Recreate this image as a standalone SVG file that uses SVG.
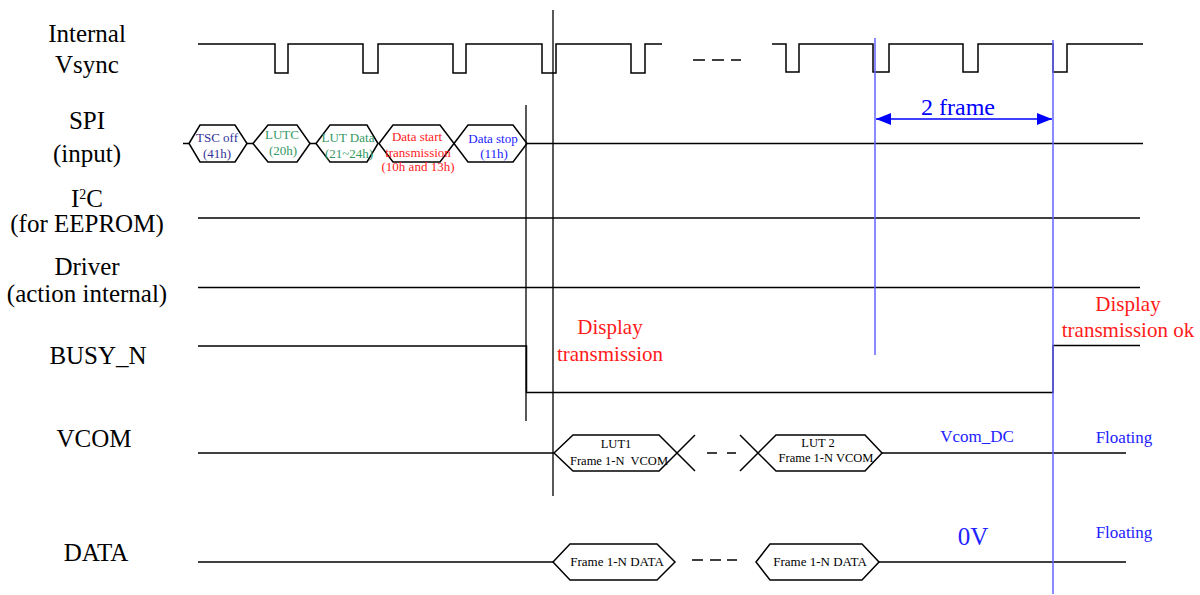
<svg xmlns="http://www.w3.org/2000/svg" width="1200" height="595" viewBox="0 0 1200 595">
<style>
.lbl{font-family:"Liberation Serif","Times New Roman",serif;font-size:25px;fill:#000;text-anchor:middle}
.sig{fill:none;stroke:#000;stroke-width:1.5}
.hex{fill:#fff;stroke:#000;stroke-width:1.5}
.mark{stroke:#000;stroke-width:1.3;fill:none}
.blu{stroke:#6464ff;stroke-width:1.5;fill:none}
.sm{font-family:"Liberation Serif","Times New Roman",serif;font-size:12.5px;text-anchor:middle;white-space:pre}
.sp{font-size:13px}
.red{font-family:"Liberation Serif","Times New Roman",serif;font-size:21px;fill:#ff1a1a;text-anchor:middle}
.bt{font-family:"Liberation Serif","Times New Roman",serif;font-size:17px;fill:#2222ff;text-anchor:middle}
</style>
<defs>
<marker id="ah" viewBox="0 0 15 12" refX="15" refY="6" markerWidth="15" markerHeight="12" markerUnits="userSpaceOnUse" orient="auto-start-reverse">
<path d="M0,0 L15,6 L0,12 Z" fill="#0000ff"/>
</marker>
</defs>
<rect width="1200" height="595" fill="#fff"/>

<g id="labels">
<text class="lbl" x="87" y="42">Internal</text>
<text class="lbl" x="87" y="73">Vsync</text>
<text class="lbl" x="87" y="129">SPI</text>
<text class="lbl" x="87" y="162">(input)</text>
<text class="lbl" x="87" y="207">I<tspan font-size="14" dy="-8">2</tspan><tspan dy="8">C</tspan></text>
<text class="lbl" x="87" y="232">(for EEPROM)</text>
<text class="lbl" x="87" y="275">Driver</text>
<text class="lbl" x="87" y="302">(action internal)</text>
<text class="lbl" x="98" y="364">BUSY_N</text>
<text class="lbl" x="94" y="447">VCOM</text>
<text class="lbl" x="96" y="561">DATA</text>
</g>

<g id="vsync">
<path class="sig" d="M198,44 H275 V73 H288 V44 H363 V73 H378 V44 H453 V73 H466 V44 H542 V73 H556 V44 H631 V73 H645 V44 H662"/>
<path class="sig" d="M693,60 H705 M712,60 H724 M731,60 H741"/>
<path class="sig" d="M772,44 H786 V72 H799 V44 H873 V72 H889 V44 H963 V72 H978 V44 H1053 V72 H1067 V44 H1143"/>
</g>

<g id="spi">
<path class="sig" d="M183,143.5 H189 M247,143.5 H253 M310,143.5 H316 M527,143.5 H1143"/>
<polygon class="hex" points="189,143.5 200,125 235,125 247,143.5 235,162 200,162"/>
<polygon class="hex" points="253,143.5 268,125 297,125 310,143.5 297,162 268,162"/>
<polygon class="hex" points="316,143.5 330,125 367,125 378,143.5 367,162 330,162"/>
<polygon class="hex" points="379,143.5 393,125 440,125 454,143.5 440,162 393,162"/>
<polygon class="hex" points="454,143.5 468,125 513,125 527,143.5 513,162 468,162"/>
<text class="sm sp" fill="#333399" x="217" y="142">TSC off</text>
<text class="sm sp" fill="#333399" x="217" y="158">(41h)</text>
<text class="sm sp" fill="#339966" x="282" y="139">LUTC</text>
<text class="sm sp" fill="#339966" x="283" y="155">(20h)</text>
<text class="sm sp" fill="#339966" x="348" y="142">LUT Data</text>
<text class="sm sp" fill="#339966" x="349" y="158">(21~24h)</text>
<text class="sm sp" fill="#ff1a1a" x="417" y="141">Data start</text>
<text class="sm sp" fill="#ff1a1a" x="418" y="157">transmission</text>
<text class="sm sp" fill="#ff1a1a" x="418" y="171">(10h and 13h)</text>
<text class="sm sp" fill="#2222ff" x="493" y="143">Data stop</text>
<text class="sm sp" fill="#2222ff" x="494" y="158">(11h)</text>
</g>

<g id="i2c">
<path class="sig" d="M198,218 H1140"/>
</g>

<g id="driver">
<path class="sig" d="M198,287.5 H1140"/>
</g>

<g id="busy">
<path class="sig" d="M198,346 H526.5 V392.5 H1053 V345.5 H1140"/>
<text class="red" x="610" y="334">Display</text>
<text class="red" x="610" y="361">transmission</text>
<text class="red" x="1128" y="311">Display</text>
<text class="red" x="1128" y="337">transmission ok</text>
</g>

<g id="vcom">
<path class="sig" d="M198,453 H554"/>
<path class="hex" d="M554,453 L573,435 H659 L695,471 M554,453 L573,471 H659 L695,435"/>
<path class="sig" d="M707,453 H717 M727,453 H736"/>
<path class="hex" d="M740,435 L776,471 H865 L882,453 L865,435 H776 L740,471"/>
<path class="sig" d="M882,453 H1126"/>
<text class="sm" x="616" y="448">LUT1</text>
<text class="sm" x="619" y="465">Frame 1-N  VCOM</text>
<text class="sm" x="818" y="447">LUT 2</text>
<text class="sm" x="826" y="462">Frame 1-N VCOM</text>
<text class="bt" x="977" y="442">Vcom_DC</text>
<text class="bt" x="1124" y="443">Floating</text>
</g>

<g id="data">
<path class="sig" d="M198,562 H553"/>
<polygon class="hex" points="553,562 570,544 657,544 675,562 657,580 570,580"/>
<path class="sig" d="M692,560 H703 M710,560 H721 M727,560 H737"/>
<polygon class="hex" points="756,562 770,544 862,544 879,562 862,580 770,580"/>
<path class="sig" d="M879,562 H1126"/>
<text class="sm" style="font-size:13px" x="617" y="566">Frame 1-N DATA</text>
<text class="sm" style="font-size:13px" x="820" y="566">Frame 1-N DATA</text>
<text class="bt" style="font-size:25px" x="973" y="545">0V</text>
<text class="bt" x="1124" y="538">Floating</text>
</g>

<g id="connectors">
<path class="mark" d="M553,10 V496 M526,105 V421"/>
<path class="blu" d="M875,38 V355 M1053,40 V594"/>
<path d="M876,119 H1052" stroke="#0000ff" stroke-width="1.5" fill="none" marker-start="url(#ah)" marker-end="url(#ah)"/>
<text x="958" y="115" font-family="Liberation Serif, Times New Roman, serif" font-size="24" fill="#0000ff" text-anchor="middle">2 frame</text>
</g>
</svg>
